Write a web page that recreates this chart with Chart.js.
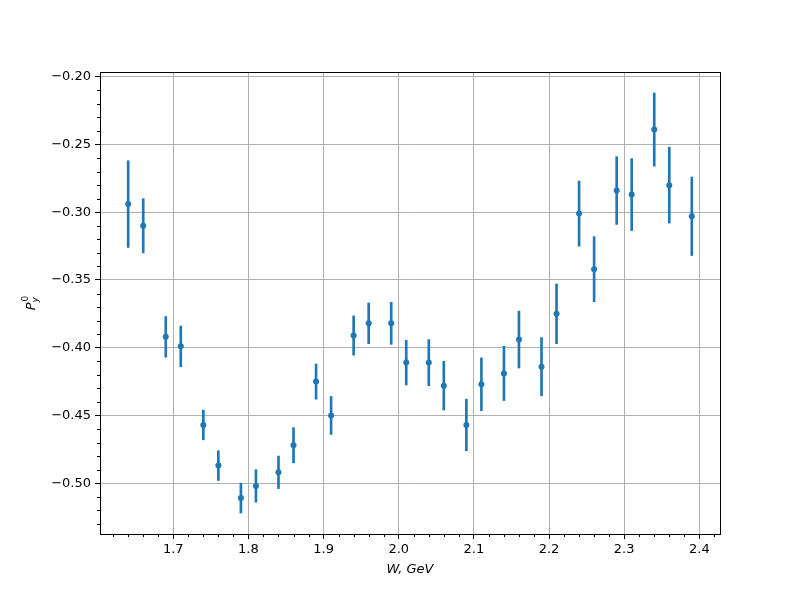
<!DOCTYPE html>
<html>
<head>
<meta charset="utf-8">
<script src="https://cdn.jsdelivr.net/npm/chart.js@4.4.1/dist/chart.umd.min.js"></script>
<style>
  html, body { margin: 0; padding: 0; background: #fff; }
  #wrap { width: 800px; height: 600px; }
</style>
</head>
<body>
<div id="wrap"><canvas id="chart" width="800" height="600"></canvas></div>
<script>
// W, GeV
const energies = [1.64, 1.66, 1.69, 1.71, 1.74, 1.76, 1.79, 1.81, 1.84, 1.86, 1.89, 1.91,
  1.94, 1.96, 1.99, 2.01, 2.04, 2.06, 2.09, 2.11, 2.14, 2.16, 2.19, 2.21,
  2.24, 2.26, 2.29, 2.31, 2.34, 2.36, 2.39];
// P_y^0
const polarization = [-0.294, -0.310, -0.392, -0.399, -0.457, -0.487, -0.511, -0.502, -0.492, -0.472, -0.425, -0.450,
  -0.391, -0.382, -0.382, -0.411, -0.411, -0.428, -0.457, -0.427, -0.419, -0.394, -0.414, -0.375,
  -0.301, -0.342, -0.284, -0.287, -0.239, -0.280, -0.303];
const errors = [0.032, 0.020, 0.015, 0.015, 0.011, 0.011, 0.011, 0.012, 0.012, 0.013, 0.013, 0.014,
  0.0145, 0.015, 0.0155, 0.0165, 0.017, 0.018, 0.019, 0.0195, 0.020, 0.021, 0.0215, 0.022,
  0.024, 0.024, 0.025, 0.0265, 0.027, 0.028, 0.029];

const xLimits = [1.6025, 2.4275];
const yLimits = [-0.5375, -0.1965];

const BLUE = '#1f77b4';
const FONT = "'DejaVu Sans', sans-serif";

const points = energies.map((w, i) => ({ x: w, y: polarization[i] }));
const errBars = energies.map((w, i) => ({ x: w, y: [polarization[i] - errors[i], polarization[i] + errors[i]] }));

// helpers for major / minor ticks
function onStep(v, step) {
  const n = v / step;
  return Math.abs(n - Math.round(n)) < 1e-6;
}

function minusFmt(v, digits) {
  return (v < 0 ? '\u2212' : '') + Math.abs(v).toFixed(digits);
}

// draws the frame, minor ticks and axis titles
const framePlugin = {
  id: 'frame',
  afterDraw(chart) {
    const ctx = chart.ctx;
    const a = chart.chartArea;
    ctx.save();
    ctx.strokeStyle = '#000';
    ctx.lineWidth = 1;

    // minor ticks
    const xs = chart.scales.x, ys = chart.scales.y;
    ctx.beginPath();
    xs.ticks.forEach(t => {
      if (onStep(t.value, 0.02) && !onStep(t.value, 0.1)) {
        const px = Math.round(xs.getPixelForValue(t.value)) + 0.5;
        ctx.moveTo(px, a.bottom);
        ctx.lineTo(px, a.bottom + 3);
      }
    });
    ys.ticks.forEach(t => {
      if (onStep(t.value, 0.01) && !onStep(t.value, 0.05)) {
        const py = Math.round(ys.getPixelForValue(t.value)) + 0.5;
        ctx.moveTo(a.left, py);
        ctx.lineTo(a.left - 3, py);
      }
    });
    ctx.stroke();

    ctx.strokeRect(Math.round(a.left) + 0.5, Math.round(a.top) + 0.5,
      Math.round(a.right - a.left), Math.round(a.bottom - a.top));

    // x title
    ctx.fillStyle = '#000';
    ctx.font = 'italic 13px ' + FONT;
    ctx.textAlign = 'center';
    ctx.textBaseline = 'middle';
    ctx.fillText('W, GeV', (a.left + a.right) / 2, 570);

    // y title: P with superscript 0 and subscript y
    ctx.translate(30, (a.top + a.bottom) / 2);
    ctx.rotate(-Math.PI / 2);
    ctx.textAlign = 'left';
    ctx.textBaseline = 'alphabetic';
    ctx.font = 'italic 13px ' + FONT;
    const wP = ctx.measureText('P').width;
    ctx.font = '9px ' + FONT;
    const w0 = ctx.measureText('0').width;
    ctx.font = 'italic 9px ' + FONT;
    const wy = ctx.measureText('y').width;
    const total = wP + Math.max(w0, wy) + 1;
    let x0 = -total / 2;
    const base = 5;
    ctx.font = 'italic 13px ' + FONT;
    ctx.fillText('P', x0, base);
    ctx.font = '9px ' + FONT;
    ctx.fillText('0', x0 + wP + 1, base - 7);
    ctx.font = 'italic 9px ' + FONT;
    ctx.fillText('y', x0 + wP, base + 3);
    ctx.restore();
  }
};

const ctx = document.getElementById('chart').getContext('2d');
new Chart(ctx, {
  type: 'scatter',
  data: {
    datasets: [
      {
        type: 'bar',
        data: errBars,
        backgroundColor: BLUE,
        borderWidth: 0,
        barThickness: 2,
        order: 2
      },
      {
        type: 'scatter',
        data: points,
        backgroundColor: BLUE,
        borderWidth: 0,
        pointRadius: 3,
        order: 1
      }
    ]
  },
  options: {
    responsive: false,
    animation: false,
    devicePixelRatio: 1,
    layout: { padding: { left: 0, top: 72, right: 80, bottom: 0 } },
    plugins: { legend: { display: false }, tooltip: { enabled: false } },
    scales: {
      x: {
        type: 'linear',
        offset: false,
        min: xLimits[0],
        max: xLimits[1],
        afterFit: s => { s.height = 66; },
        border: { display: true, color: '#000', width: 1 },
        grid: {
          offset: false,
          color: c => onStep(c.tick.value, 0.1) ? '#b0b0b0' : 'rgba(0,0,0,0)',
          tickColor: c => onStep(c.tick.value, 0.1) ? '#000' : 'rgba(0,0,0,0)',
          lineWidth: 1,
          tickLength: 5
        },
        ticks: {
          stepSize: 0.02,
          includeBounds: false,
          autoSkip: false,
          maxRotation: 0,
          padding: 3,
          color: '#000',
          font: { family: FONT, size: 13 },
          callback: v => onStep(v, 0.1) ? v.toFixed(1) : ''
        }
      },
      y: {
        type: 'linear',
        min: yLimits[0],
        max: yLimits[1],
        afterFit: s => { s.width = 100; },
        border: { display: true, color: '#000', width: 1 },
        grid: {
          color: c => onStep(c.tick.value, 0.05) ? '#b0b0b0' : 'rgba(0,0,0,0)',
          tickColor: c => onStep(c.tick.value, 0.05) ? '#000' : 'rgba(0,0,0,0)',
          lineWidth: 1,
          tickLength: 5
        },
        ticks: {
          stepSize: 0.01,
          includeBounds: false,
          autoSkip: false,
          padding: 4,
          color: '#000',
          font: { family: FONT, size: 13 },
          callback: v => onStep(v, 0.05) ? minusFmt(v, 2) : ''
        }
      }
    }
  },
  plugins: [framePlugin]
});
</script>
</body>
</html>
